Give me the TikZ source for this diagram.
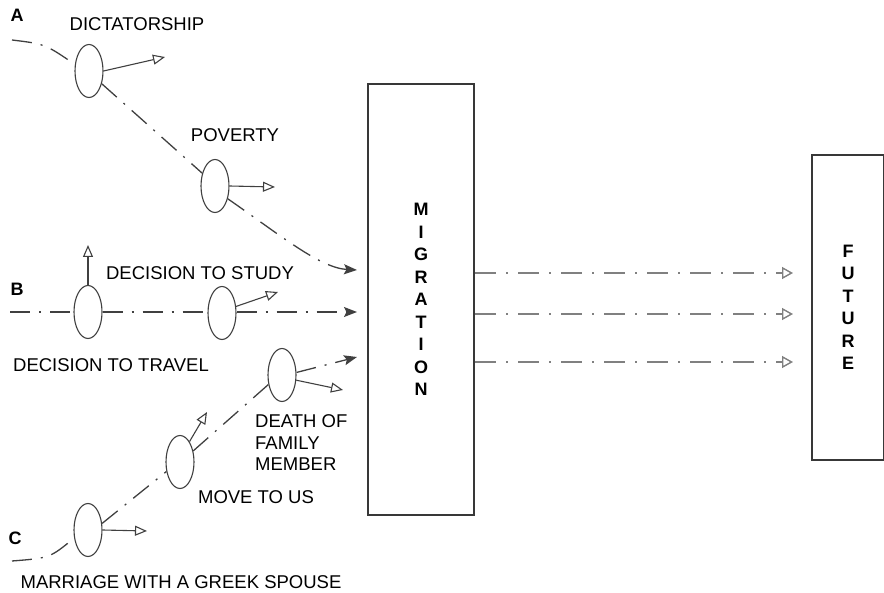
\documentclass[tikz,border=0pt]{standalone}
\usepackage{fontspec}
\setmainfont{Liberation Sans}
\usetikzlibrary{arrows.meta,shapes.geometric}
\definecolor{inkgray}{HTML}{404040}
\definecolor{boxgray}{HTML}{383838}
\definecolor{flowgray}{HTML}{808080}
\tikzset{
  stagebox/.style={
    rectangle, draw=boxgray, line width=2pt, inner sep=0pt,
    align=center, font=\fontsize{18}{22.5}\selectfont\bfseries
  },
  event/.style={
    ellipse, draw=inkgray, line width=1.1pt, inner sep=0pt,
    minimum width=28pt, minimum height=53pt
  },
  pathline/.style={
    draw=inkgray, line width=1.3pt,
    dash pattern=on 20pt off 9pt on 2pt off 9pt
  },
  pathend/.style={
    pathline, -{Stealth[length=13pt, width=10pt, inset=2.5pt]}
  },
  sidearrow/.style={
    draw=inkgray, line width=1.1pt,
    -{Triangle[open, length=12pt, width=10pt]}
  },
  outflow/.style={
    draw=flowgray, line width=1.8pt,
    dash pattern=on 21pt off 10pt on 2pt off 10pt,
    -{Triangle[open, length=11pt, width=12pt, line width=1.4pt]}
  },
  labeltext/.style={
    inner sep=0pt, font=\fontsize{18.5}{21.5}\selectfont
  },
  pathtag/.style={
    inner sep=0pt, font=\fontsize{18}{21}\selectfont\bfseries
  },
}

\begin{document}
\begin{tikzpicture}[x=1pt, y=-1pt]
  \clip (0,0) rectangle (884,593);

  % Migration and future
  \node[stagebox, minimum width=106pt, minimum height=431pt] (mig) at (421,299.5)
    {M\\I\\G\\R\\A\\T\\I\\O\\N};
  \node[stagebox, minimum width=72pt, minimum height=305pt] (fut) at (848,307.5)
    {F\\U\\T\\U\\R\\E};

  % Path A
  \node[pathtag] (tagA) at (17,15) {A};
  \coordinate (a0) at (12,40);
  \node[event] (a1) at (89,71) {};
  \node[event] (a2) at (215,186) {};
  \coordinate (inA) at (357,270);
  \draw[pathline] (a0) .. controls (45,44) .. (a1.155);
  \draw[pathline] (a1.-45) -- (a2.135);
  \draw[pathend] (a2.-45) .. controls (280,235) and (320,268) .. (inA);
  \coordinate (a1x) at (165,57);
  \coordinate (a2x) at (275,187);
  \draw[sidearrow] (a1.east) -- (a1x);
  \draw[sidearrow] (a2.east) -- (a2x);
  \node[labeltext] at (137,24) {DICTATORSHIP};
  \node[labeltext] at (235,135) {POVERTY};

  % Path B
  \node[pathtag] (tagB) at (17,289) {B};
  \coordinate (b0) at (10,312);
  \node[event] (b1) at (88,312) {};
  \node[event] (b2) at (222,313) {};
  \coordinate (inB) at (357,312);
  \draw[pathline] (b0) -- (b1.west);
  \draw[pathline] (b1.east) -- (b2.west |- inB);
  \draw[pathend] (b2.east |- inB) -- (inB);
  \coordinate (b1x) at (88,245);
  \coordinate (b2x) at (278,292);
  \draw[sidearrow] (b1.north) -- (b1x);
  \draw[sidearrow] (b2.25) -- (b2x);
  \node[labeltext] at (200,273) {DECISION TO STUDY};
  \node[labeltext] at (111,365) {DECISION TO TRAVEL};

  % Path C
  \node[pathtag] (tagC) at (15,538) {C};
  \coordinate (c0) at (12,561);
  \node[event] (c1) at (88,530) {};
  \node[event] (c2) at (180,462) {};
  \node[event] (c3) at (282,375) {};
  \coordinate (inC) at (357,357);
  \draw[pathline] (c0) .. controls (50,558) .. (c1.210);
  \draw[pathline] (c1.25) -- (c2.215);
  \draw[pathline] (c2.40) -- (c3.215);
  \draw[pathend] (c3.10) -- (inC);
  \coordinate (c1x) at (147,531);
  \coordinate (c2x) at (207,412);
  \coordinate (c3x) at (343,390);
  \draw[sidearrow] (c1.east) -- (c1x);
  \draw[sidearrow] (c2.65) -- (c2x);
  \draw[sidearrow] (c3.-20) -- (c3x);
  \node[labeltext] at (181,582) {MARRIAGE WITH A GREEK SPOUSE};
  \node[labeltext] at (256,497) {MOVE TO US};
  \node[labeltext, align=left, anchor=west] at (255,443) {DEATH OF\\FAMILY\\MEMBER};

  % Towards the future
  \coordinate (o1) at (793,273);
  \coordinate (o2) at (793,314);
  \coordinate (o3) at (793,362);
  \draw[outflow] (mig.east |- o1) -- (o1);
  \draw[outflow] (mig.east |- o2) -- (o2);
  \draw[outflow] (mig.east |- o3) -- (o3);
\end{tikzpicture}
\end{document}
